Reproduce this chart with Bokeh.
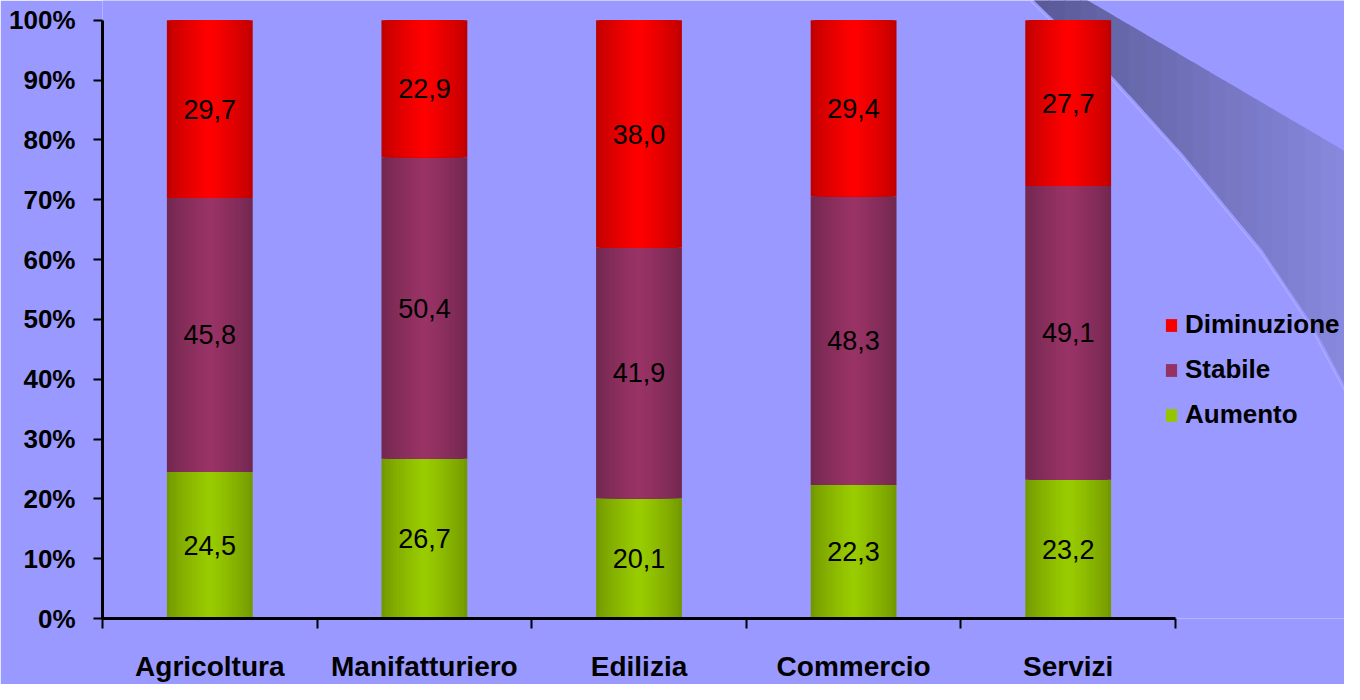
from bokeh.plotting import figure
from bokeh.models import (Range1d, FixedTicker, ColumnDataSource, Legend, LegendItem)
from bokeh.core.properties import value
from bokeh.embed import file_html
from bokeh.resources import INLINE

# ---------------- data ----------------
categories = ["Agricoltura", "Manifatturiero", "Edilizia", "Commercio", "Servizi"]
aumento = [24.5, 26.7, 20.1, 22.3, 23.2]
stabile = [45.8, 50.4, 41.9, 48.3, 49.1]
diminuzione = [29.7, 22.9, 38.0, 29.4, 27.7]
series_names = ["Aumento", "Stabile", "Diminuzione"]
y_ticks = [0, 10, 20, 30, 40, 50, 60, 70, 80, 90, 100]
y_tick_labels = ["0%", "10%", "20%", "30%", "40%", "50%", "60%", "70%", "80%", "90%", "100%"]

# ---------------- styling ----------------
BG = "#9999FF"
FONT = "Liberation Sans"
edge_colors = ["#739900", "#722850", "#C00000"]
center_colors = ["#99CC00", "#993366", "#FF0000"]
BAR_W = 0.40
N_LAYERS = 14

W, H = 1344, 684
FRAME_L, FRAME_B = 102, 62
TOP_PAD = 20                       # px between frame top and the 100% tick
PX_PER_X = 214.6
PX_PER_Y = (H - FRAME_B - TOP_PAD) / 100.0
x_end = (W - FRAME_L) / PX_PER_X
y_end = (H - FRAME_B) / PX_PER_Y

p = figure(width=W, height=H, x_range=Range1d(0, x_end), y_range=Range1d(0, y_end),
           output_backend="svg", toolbar_location=None,
           min_border_left=FRAME_L, min_border_right=0, min_border_top=0,
           min_border_bottom=FRAME_B)
p.background_fill_color = BG
p.border_fill_color = BG
p.outline_line_color = None
p.xgrid.visible = False
p.ygrid.visible = False

# ---------------- decorative swoosh (reference-pixel space) ----------------
REF_X0, REF_Y0, REF_Y100 = 110, 641, 22
ref_scale_y = (REF_Y0 - REF_Y100) / (H - FRAME_B - TOP_PAD)
p.extra_x_ranges = {"px": Range1d(REF_X0, REF_X0 + (W - FRAME_L))}
p.extra_y_ranges = {"py": Range1d(REF_Y0, REF_Y100 - TOP_PAD * ref_scale_y)}
swoosh = [(1040, -10), (1093, -10), (1093, 0), (1360, 162), (1360, 415), (1320, 337),
          (1270, 260), (1190, 160), (1120, 80), (1040, 0)]


def _isect(a, b, xc):
    t = (xc - a[0]) / (b[0] - a[0])
    return (xc, a[1] + t * (b[1] - a[1]))


def _clip(poly, xc, keep_greater):
    out = []
    for i in range(len(poly)):
        cur, prev = poly[i], poly[i - 1]
        cin = cur[0] >= xc if keep_greater else cur[0] <= xc
        pin = prev[0] >= xc if keep_greater else prev[0] <= xc
        if cin:
            if not pin:
                out.append(_isect(prev, cur, xc))
            out.append(cur)
        elif pin:
            out.append(_isect(prev, cur, xc))
    return out


def _lerp(c1, c2, t):
    a = [int(c1[i:i + 2], 16) for i in (1, 3, 5)]
    b = [int(c2[i:i + 2], 16) for i in (1, 3, 5)]
    return "#%02x%02x%02x" % tuple(round(a[i] + (b[i] - a[i]) * t) for i in range(3))


n_strips = 20
sx0, sx1 = 1040, 1360
for i in range(n_strips):
    a = sx0 + (sx1 - sx0) * i / n_strips
    b = sx0 + (sx1 - sx0) * (i + 1) / n_strips + 1
    poly = _clip(_clip(swoosh, a, True), b, False)
    if len(poly) < 3:
        continue
    col = _lerp("#5A5A98", "#8888DE", i / (n_strips - 1))
    p.patch([q[0] for q in poly], [q[1] for q in poly], fill_color=col,
            line_color=None, x_range_name="px", y_range_name="py")
edge_pts = [(1040, 0), (1120, 80), (1190, 160), (1270, 260), (1320, 337), (1360, 415)]
p.line([q[0] - 2 for q in edge_pts], [q[1] + 2 for q in edge_pts], line_color="#AEAEFF",
       line_width=1.2, x_range_name="px", y_range_name="py")

# ---------------- stacked gradient bars ----------------
xs = [i + 0.5 for i in range(len(categories))]
stacks = [aumento, stabile, diminuzione]
bottoms = [0.0] * len(categories)
legend_refs = {}
label_x, label_y, label_t = [], [], []
for s, vals in enumerate(stacks):
    tops = [b + v for b, v in zip(bottoms, vals)]
    src = ColumnDataSource(dict(x=xs, bottom=bottoms, top=tops))
    for k in range(N_LAYERS):
        w = BAR_W * (1 - k / N_LAYERS)
        col = _lerp(edge_colors[s], center_colors[s], (k / (N_LAYERS - 1)) ** 0.8)
        r = p.vbar(x="x", bottom="bottom", top="top", width=w, source=src,
                   fill_color=col, line_color=None)
        if k == N_LAYERS - 3:
            legend_refs[series_names[s]] = r
    for x, b, v in zip(xs, bottoms, vals):
        label_x.append(x)
        label_y.append(b + v / 2)
        label_t.append(("%.1f" % v).replace(".", ","))
    bottoms = tops

p.text(x=label_x, y=label_y, text=label_t, text_font=value(FONT),
       text_font_size=value("27px"), text_align="center", text_baseline="middle",
       text_color="black")

# ---------------- axes ----------------
yax = p.yaxis[0]
yax.ticker = FixedTicker(ticks=y_ticks)
yax.major_label_overrides = {t: l for t, l in zip(y_ticks, y_tick_labels)}
yax.bounds = (0, 100)
yax.axis_line_width = 3
yax.axis_line_color = "black"
yax.major_tick_line_width = 2
yax.major_tick_line_color = "black"
yax.major_tick_out = 9
yax.major_tick_in = 0
yax.minor_tick_line_color = None
yax.major_label_standoff = 18
yax.major_label_text_font = FONT
yax.major_label_text_font_style = "bold"
yax.major_label_text_font_size = "26px"
yax.major_label_text_color = "black"

xax = p.xaxis[0]
xax.ticker = FixedTicker(ticks=xs, minor_ticks=list(range(len(categories) + 1)))
xax.major_label_overrides = {x: c for x, c in zip(xs, categories)}
xax.bounds = (0, len(categories))
xax.axis_line_width = 3
xax.axis_line_color = "black"
xax.minor_tick_line_width = 2
xax.minor_tick_line_color = "black"
xax.minor_tick_out = 10
xax.minor_tick_in = 0
xax.major_tick_line_color = None
xax.major_tick_out = 0
xax.major_tick_in = 0
xax.major_label_standoff = 22
xax.major_label_text_font = FONT
xax.major_label_text_font_style = "bold"
xax.major_label_text_font_size = "28px"
xax.major_label_text_color = "black"

# ---------------- legend ----------------
legend = Legend(items=[LegendItem(label=n, renderers=[legend_refs[n]])
                       for n in ["Diminuzione", "Stabile", "Aumento"]],
                location=(1062, 188), orientation="vertical")
legend.background_fill_alpha = 0
legend.border_line_alpha = 0
legend.padding = 0
legend.margin = 0
legend.spacing = 14
legend.glyph_width = 14
legend.glyph_height = 16
legend.label_height = 30
legend.label_standoff = 7
legend.label_text_font = FONT
legend.label_text_font_style = "bold"
legend.label_text_font_size = "26px"
legend.label_text_color = "black"
p.add_layout(legend)

open("out.html", "w").write(file_html(p, INLINE))
